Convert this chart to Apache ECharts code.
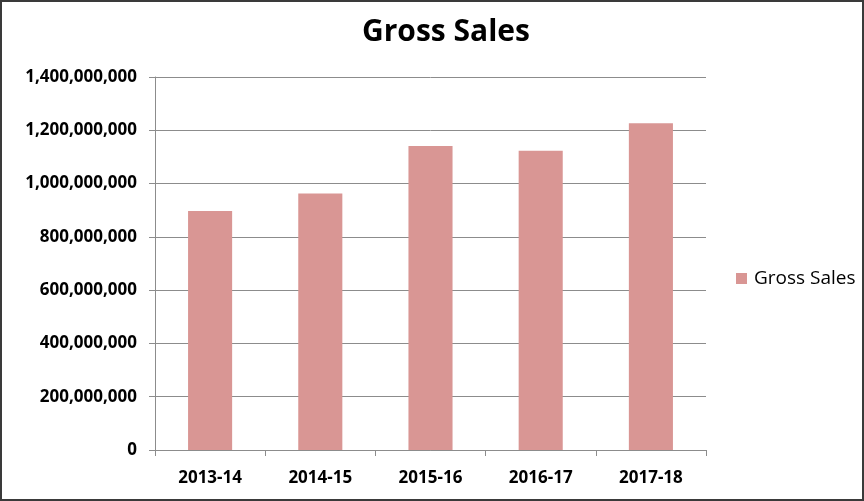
<!DOCTYPE html>
<html><head><meta charset="utf-8">
<script src="https://cdn.jsdelivr.net/npm/echarts@6/dist/echarts.min.js"></script>
<style>html,body{margin:0;padding:0;background:#fff}#wrap{position:relative;width:864px;height:501px}#c{width:864px;height:501px}#b{position:absolute;left:0;top:0;width:864px;height:501px;box-sizing:border-box;border:2px solid #3a3a3a;pointer-events:none}</style>
</head><body><div id="wrap"><div id="c"></div><div id="b"></div></div>
<script>
const categories = ['2013-14','2014-15','2015-16','2016-17','2017-18'];
const grossSales = [897000000, 963000000, 1141000000, 1123000000, 1226000000];
const seriesName = 'Gross Sales';
const chart = echarts.init(document.getElementById('c'));
const fam = '"Open Sans", sans-serif';
chart.setOption({
  animation:false,
  title:{text:'Gross Sales',left:441,top:12,textAlign:'center',textStyle:{fontFamily:fam,fontSize:30,fontWeight:'bold',color:'#000'}},
  legend:{data:[seriesName],left:736,top:269,padding:0,itemWidth:11,itemHeight:11,itemGap:6,icon:'rect',textStyle:{fontFamily:fam,fontSize:19,color:'#000',padding:[0,0,0,2]}},
  grid:{left:155,right:158,top:77,bottom:51,containLabel:false},
  xAxis:{type:'category',data:categories,
    axisLine:{lineStyle:{color:'#8c8c8c',width:1}},
    axisTick:{show:true,length:6,lineStyle:{color:'#8c8c8c'}},
    axisLabel:{fontFamily:fam,fontSize:17,fontWeight:'bold',color:'#000',margin:20}},
  yAxis:{type:'value',min:0,max:1400000000,interval:200000000,
    axisLine:{show:true,lineStyle:{color:'#8c8c8c'}},
    axisTick:{show:true,length:6,lineStyle:{color:'#8c8c8c'}},
    splitLine:{lineStyle:{color:'#8c8c8c',width:1}},
    axisLabel:{fontFamily:fam,fontSize:17,fontWeight:'bold',color:'#000',margin:18,
      formatter:v=>v.toLocaleString('en-US')}},
  series:[{name:seriesName,type:'bar',data:grossSales,barWidth:'40%',
    itemStyle:{color:'#d99694'}}]
});
</script></body></html>
